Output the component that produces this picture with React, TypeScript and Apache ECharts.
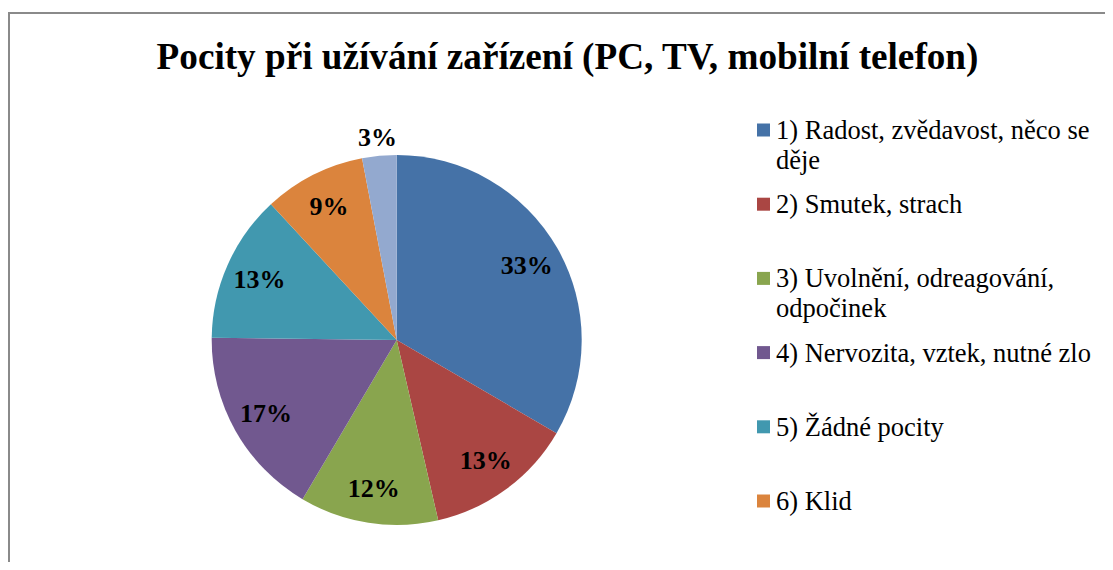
import React, { useEffect, useRef } from "react";
import * as echarts from "echarts";

const TITLE = "Pocity při užívání zařízení (PC, TV, mobilní telefon)";
const categories = [
  "1) Radost, zvědavost, něco se děje",
  "2) Smutek, strach",
  "3) Uvolnění, odreagování, odpočinek",
  "4) Nervozita, vztek, nutné zlo",
  "5) Žádné pocity",
  "6) Klid",
  "7) Ostatní",
];
const values = [33.4, 13.0, 12.1, 16.7, 12.9, 8.9, 3.0];
const colors = ["#4572A7", "#AA4643", "#89A54E", "#71588F", "#4198AF", "#DB843D", "#93A9CF"];
const legendShown = categories.slice(0, 6);

const SERIF = "'Liberation Serif', 'Times New Roman', serif";
const LEGEND_SIZE = 26.5;
const LEGEND_WIDTH = 335;
const LINE_H = 30;

function measure(t: string): number {
  const c = document.createElement("canvas").getContext("2d");
  if (!c) return 0;
  c.font = `${LEGEND_SIZE}px ${SERIF}`;
  return c.measureText(t).width;
}

function wrapLegend(name: string): string[] {
  const words = name.split(" ");
  const lines: string[] = [];
  let cur = "";
  for (const w of words) {
    const t = cur ? cur + " " + w : w;
    if (cur && measure(t) > LEGEND_WIDTH) {
      lines.push(cur);
      cur = w;
    } else {
      cur = t;
    }
  }
  lines.push(cur);
  return lines;
}

export default function App() {
  const ref = useRef<HTMLDivElement>(null);
  useEffect(() => {
    const chart = echarts.init(ref.current!, null, { renderer: "svg" });
    const pieData = categories.map((name, i) => ({
      name,
      value: values[i],
      itemStyle: { color: colors[i] },
    }));
    const labelFont = {
      fontFamily: SERIF,
      fontSize: 26,
      fontWeight: "bold" as const,
      color: "#000",
    };
    const center = [388.7, 332];
    chart.setOption({
      animation: false,
      backgroundColor: "#fff",
      title: {
        text: TITLE,
        left: 559.5,
        top: 29.5,
        padding: 0,
        textAlign: "center",
        textStyle: { fontFamily: SERIF, fontSize: 37.2, fontWeight: "bold", color: "#000" },
      },
      graphic: [
        {
          type: "rect",
          silent: true,
          z: -1,
          shape: { x: 1, y: 5, width: 1300, height: 1000 },
          style: { fill: "none", stroke: "#8a8a8a", lineWidth: 2 },
        },
      ],
      legend: {
        orient: "vertical",
        left: 749,
        top: 77,
        padding: 0,
        itemGap: -15.8,
        itemWidth: 13,
        itemHeight: 13,
        icon: "rect",
        textStyle: {
          fontFamily: SERIF,
          fontSize: LEGEND_SIZE,
          color: "#000",
          lineHeight: LINE_H,
          padding: [0, 0, 0, 1],
        },
        formatter: (name: string) => {
          const l = wrapLegend(name);
          return l.length > 1 ? "\n" + l.join("\n") : "\n" + name + "\n";
        },
        data: legendShown,
      },
      series: [
        {
          type: "pie",
          center,
          radius: [0, 185],
          startAngle: 90,
          clockwise: true,
          avoidLabelOverlap: false,
          label: { show: false },
          labelLine: { show: false },
          emphasis: { disabled: true },
          data: pieData,
        },
        {
          type: "pie",
          center,
          radius: [109, 185],
          startAngle: 90,
          clockwise: true,
          silent: true,
          avoidLabelOverlap: false,
          itemStyle: { color: "rgba(0,0,0,0)" },
          label: {
            show: true,
            position: "inside",
            ...labelFont,
            formatter: (p: any) => (p.percent >= 5 ? `${Math.round(p.percent)}%` : ""),
          },
          labelLine: { show: false },
          emphasis: { disabled: true },
          data: categories.map((name, i) => ({ name, value: values[i] })),
        },
        {
          type: "pie",
          center,
          radius: [185, 215],
          startAngle: 90,
          clockwise: true,
          silent: true,
          avoidLabelOverlap: false,
          itemStyle: { color: "rgba(0,0,0,0)" },
          label: {
            show: true,
            position: "inside",
            ...labelFont,
            formatter: (p: any) => (p.percent < 5 ? `${Math.round(p.percent)}%` : ""),
          },
          labelLine: { show: false },
          emphasis: { disabled: true },
          data: categories.map((name, i) => ({ name, value: values[i] })),
        },
      ],
    });
    return () => chart.dispose();
  }, []);
  return (
    <div style={{ width: 1105, height: 554, overflow: "hidden", background: "#fff" }}>
      <div ref={ref} style={{ width: 1105, height: 650 }} />
    </div>
  );
}
